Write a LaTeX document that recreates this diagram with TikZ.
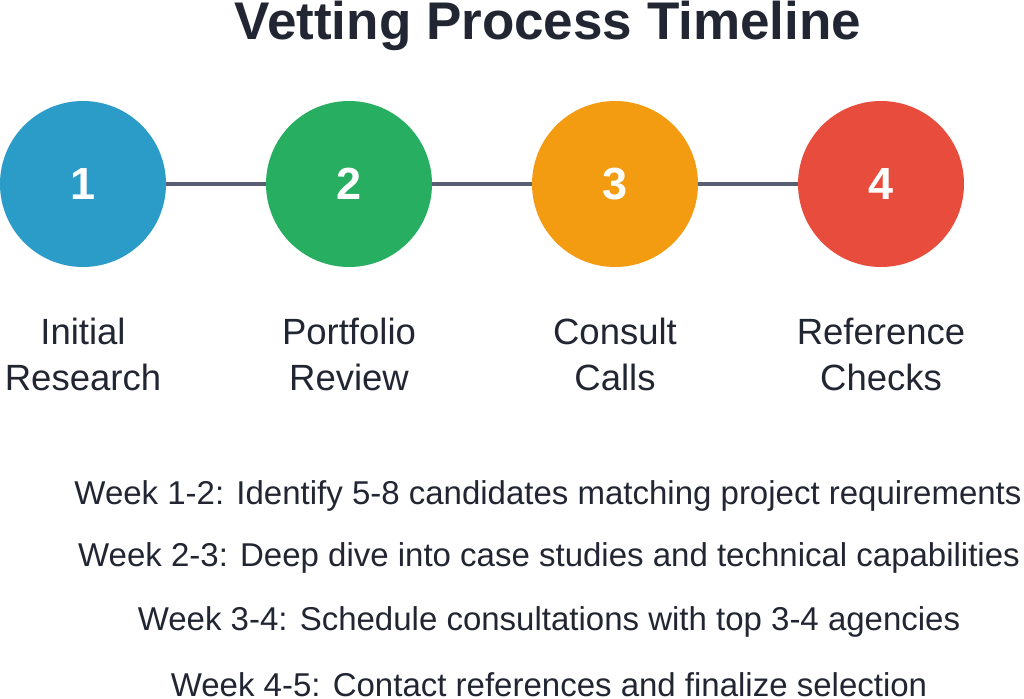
\documentclass[tikz,border=0pt]{standalone}
\usepackage{fontspec}
\setmainfont{Liberation Sans}
\definecolor{cblue}{HTML}{2B9CC7}
\definecolor{cgreen}{HTML}{27AE60}
\definecolor{corange}{HTML}{F39C12}
\definecolor{cred}{HTML}{E74C3C}
\definecolor{cline}{HTML}{5A5E72}
\definecolor{ctext}{HTML}{222633}
\tikzset{
  stepcircle/.style={circle,minimum size=166pt,inner sep=0pt,text=white,font=\fontsize{45}{45}\selectfont\bfseries},
  steplabel/.style={align=center,text=ctext,font=\fontsize{36.5}{46}\selectfont},
  weekline/.style={text=ctext,font=\fontsize{33}{34}\selectfont,anchor=center},
  conn/.style={cline,line width=4pt}
}
\begin{document}
\begin{tikzpicture}[x=1pt,y=-1pt]
\useasboundingbox[fill=white] (0,0) rectangle (1024,698);
\node[text=ctext,font=\fontsize{53}{53}\selectfont\bfseries] (title) at (548,26) {Vetting Process Timeline};
\node[stepcircle,fill=cblue] (c1) at (83,184) {1};
\node[stepcircle,fill=cgreen] (c2) at (349,184) {2};
\node[stepcircle,fill=corange] (c3) at (615,184) {3};
\node[stepcircle,fill=cred] (c4) at (881,184) {4};
\draw[conn] (c1) -- (c2);
\draw[conn] (c2) -- (c3);
\draw[conn] (c3) -- (c4);
\node[steplabel] (l1) at (83,354) {Initial\\Research};
\node[steplabel] (l2) at (349,354) {Portfolio\\Review};
\node[steplabel] (l3) at (615,354) {Consult\\Calls};
\node[steplabel] (l4) at (881,354) {Reference\\Checks};
\node[weekline] (w1) at (548,496) {Week 1-2: Identify 5-8 candidates matching project requirements};
\node[weekline] (w2) at (549,558) {Week 2-3: Deep dive into case studies and technical capabilities};
\node[weekline] (w3) at (549,622) {Week 3-4: Schedule consultations with top 3-4 agencies};
\node[weekline] (w4) at (549,685) {Week 4-5: Contact references and finalize selection};
\end{tikzpicture}
\end{document}
